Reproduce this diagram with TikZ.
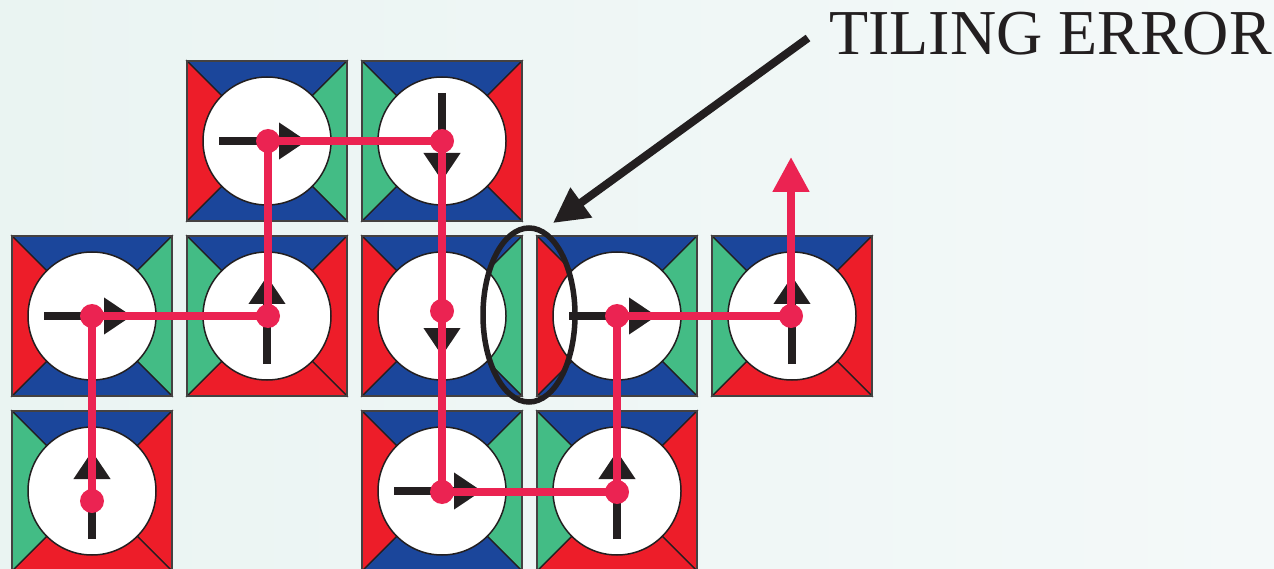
\documentclass[tikz,border=0pt]{standalone}
\usepackage{tikz}
\usepackage{xcolor}
\usepackage{fontspec}
\setmainfont{Liberation Serif}
\usetikzlibrary{arrows.meta,shapes.geometric}

\definecolor{tileblue}{RGB}{27,70,155}
\definecolor{tilegreen}{RGB}{67,188,133}
\definecolor{tilered}{RGB}{237,29,41}
\definecolor{routered}{RGB}{235,35,82}
\definecolor{inkblack}{RGB}{35,31,32}
\definecolor{bgleft}{RGB}{234,244,242}
\definecolor{bgright}{RGB}{244,249,249}

\tikzset{
  facet/.style={draw=inkblack, line width=1.2pt},
  frame/.style={draw=inkblack!85, line width=2pt},
  dial/.style={fill=white, draw=inkblack, line width=1.5pt},
  needle/.style={draw=inkblack, line width=8pt, -{Triangle[length=28pt,width=35pt]}},
  route/.style={draw=routered, line width=8pt, -{Triangle[length=35pt,width=35pt]}},
  knot/.style={fill=routered},
  flaw/.style={ellipse, draw=inkblack, line width=5.5pt, minimum width=92pt,
    minimum height=174pt, inner sep=0pt},
  pointer/.style={draw=inkblack, line width=8pt, -{Triangle[length=35pt,width=35pt]}}
}

% one tile: centre x, centre y, top, right, bottom, left colour, arrow angle
\newcommand{\tile}[7]{%
  \begin{scope}[shift={(#1,#2)}]
    \filldraw[facet, fill=#3] (0,0) -- (-80,-80) -- (80,-80) -- cycle;
    \filldraw[facet, fill=#4] (0,0) -- (80,-80) -- (80,80) -- cycle;
    \filldraw[facet, fill=#5] (0,0) -- (80,80) -- (-80,80) -- cycle;
    \filldraw[facet, fill=#6] (0,0) -- (-80,80) -- (-80,-80) -- cycle;
    \draw[frame] (-80,-80) rectangle (80,80);
    \filldraw[dial] (0,0) circle (64pt);
    \draw[needle] (#7+180:48) -- (#7:40);
  \end{scope}}

\begin{document}
\begin{tikzpicture}[x=1pt, y=-1pt]

% Background
\shade[left color=bgleft, right color=bgright] (0,0) rectangle (1274,569);
\useasboundingbox (0,0) rectangle (1274,569);

% Top row
\tile{267}{141}{tileblue}{tilegreen}{tileblue}{tilered}{0}
\tile{442}{141}{tileblue}{tilered}{tileblue}{tilegreen}{90}

% Middle row
\tile{92}{316}{tileblue}{tilegreen}{tileblue}{tilered}{0}
\tile{267}{316}{tileblue}{tilered}{tilered}{tilegreen}{-90}
\tile{442}{316}{tileblue}{tilegreen}{tileblue}{tilered}{90}
\tile{617}{316}{tileblue}{tilegreen}{tileblue}{tilered}{0}
\tile{792}{316}{tileblue}{tilered}{tilered}{tilegreen}{-90}

% Bottom row
\tile{92}{491}{tileblue}{tilered}{tilered}{tilegreen}{-90}
\tile{442}{491}{tileblue}{tilegreen}{tileblue}{tilered}{0}
\tile{617}{491}{tileblue}{tilered}{tilered}{tilegreen}{-90}

% Route through the tiles
\coordinate (p1) at (92,501);
\coordinate (p2) at (92,316);
\coordinate (p3) at (268,316);
\coordinate (p4) at (268,141);
\coordinate (p5) at (442,141);
\coordinate (p6) at (442,311);
\coordinate (p7) at (442,492);
\coordinate (p8) at (617,492);
\coordinate (p9) at (617,316);
\coordinate (p10) at (791,316);
\coordinate (exit) at (791,157);
\draw[route] (p1) -- (p2) -- (p3) -- (p4) -- (p5) -- (p6) -- (p7) -- (p8)
  -- (p9) -- (p10) -- (exit);
\foreach \p in {p1,p2,p3,p4,p5,p6,p7,p8,p9,p10}
  \fill[knot] (\p) circle (12pt);

% Mismatch
\node[flaw] (err) at (529,315) {};

% Label
\node[anchor=base west, inner sep=0pt, text=inkblack,
  font=\fontsize{64}{64}\selectfont] (errlabel) at (829,55) {TILING ERROR};
\coordinate (tail) at (808,38);
\coordinate (tip) at (553,223);
\draw[pointer] (tail) -- (tip);

\end{tikzpicture}
\end{document}
